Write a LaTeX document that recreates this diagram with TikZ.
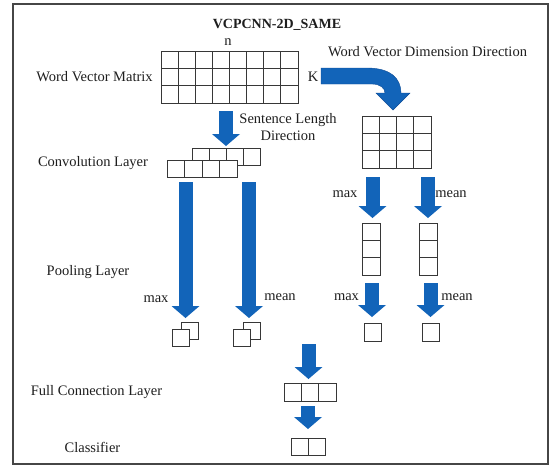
\documentclass[tikz,border=0pt]{standalone}
\usepackage{fontspec}
\setmainfont{Liberation Serif}
\usetikzlibrary{matrix,arrows.meta}
\definecolor{ablue}{RGB}{18,100,185}
\definecolor{aedge}{RGB}{12,75,150}
\definecolor{cellc}{RGB}{55,55,55}
\definecolor{txt}{RGB}{30,30,30}
\definecolor{framec}{RGB}{70,70,70}
\tikzset{
  gridm/.style={matrix of nodes, nodes in empty cells, column sep=-0.8pt, row sep=-0.8pt,
    inner sep=0pt, outer sep=0pt,
    nodes={draw=cellc, line width=0.8pt, fill=white, inner sep=0pt, outer sep=0pt}},
  cellbox/.style={draw=cellc, line width=0.8pt, fill=white, inner sep=0pt, outer sep=0pt,
    minimum width=17pt, minimum height=17pt},
  lbl/.style={text=txt, font=\fontsize{14.5}{17}\selectfont, inner sep=0pt},
  barrow/.style={draw=ablue, line width=14pt,
    -{Triangle[width=28pt,length=12pt,line width=0pt,fill=ablue]}},
  frame/.style={draw=framec, line width=1.2pt}
}
\begin{document}
\begin{tikzpicture}[x=1pt,y=-1pt]
\useasboundingbox (0,0) rectangle (550,466);
\draw[frame] (13,4) rectangle (548,464);

% title and labels
\node[lbl, font=\fontsize{14}{17}\selectfont\bfseries] (title) at (277,25) {VCPCNN-2D\_SAME};
\node[lbl] (n) at (228,42) {n};
\node[lbl] (wvmlbl) at (94.5,77) {Word Vector Matrix};
\node[lbl] (k) at (313,77) {K};
\node[lbl] (wvdd) at (427.5,52) {Word Vector Dimension Direction};
\node[lbl, align=center] (sld) at (288,127.5) {Sentence Length\\Direction};
\node[lbl] (convlbl) at (93,163) {Convolution Layer};
\node[lbl] (poollbl) at (88,272) {Pooling Layer};
\node[lbl] (fclbl) at (96.5,392) {Full Connection Layer};
\node[lbl] (clslbl) at (92.5,447) {Classifier};
\node[lbl] (max1) at (156,299) {max};
\node[lbl] (mean1) at (280,297) {mean};
\node[lbl] (max2) at (345,194) {max};
\node[lbl] (mean2) at (451,194) {mean};
\node[lbl] (max3) at (346.5,297) {max};
\node[lbl] (mean3) at (457,297) {mean};

% word vector matrix 8x3
\matrix (wvm) [gridm, nodes={minimum width=17.125pt, minimum height=17.33pt}] at (229.5,77)
  { &&&&&&& \\ &&&&&&& \\ &&&&&&& \\ };
% right matrix 4x3
\matrix (rm) [gridm, nodes={minimum width=17.25pt, minimum height=17.33pt}] at (396.5,142)
  { &&& \\ &&& \\ &&& \\ };
% convolution layer rows
\matrix (convb) [gridm, nodes={minimum width=17pt, minimum height=17.5pt}] at (226,157)
  { &&& \\ };
\matrix (convf) [gridm, nodes={minimum width=17.5pt, minimum height=17.5pt}] at (202,169)
  { &&& \\ };
% column vectors
\matrix (colL) [gridm, nodes={minimum width=18pt, minimum height=17.33pt}] at (371,249)
  { \\ \\ \\ };
\matrix (colR) [gridm, nodes={minimum width=18pt, minimum height=17.33pt}] at (428,249)
  { \\ \\ \\ };
% pooled squares (left part)
\node[cellbox] (pLb) at (189.5,330.5) {};
\node[cellbox] (pLf) at (180.5,338) {};
\node[cellbox] (pRb) at (251.5,330.5) {};
\node[cellbox] (pRf) at (242,338) {};
% pooled squares (right part)
\node[cellbox, minimum height=18pt] (qL) at (372.5,332) {};
\node[cellbox, minimum height=18pt] (qR) at (430.5,332) {};
% full connection 3 cells
\matrix (fc) [gridm, nodes={minimum width=17.33pt, minimum height=18pt}] at (310,392)
  { && \\ };
% classifier 2 cells
\matrix (cls) [gridm, nodes={minimum width=17pt, minimum height=17pt}] at (308,446.5)
  { & \\ };

% arrow end points
\coordinate (a1s) at (226,111);   \coordinate (a1e) at (226,146);
\coordinate (a2s) at (185.5,182); \coordinate (a2e) at (185.5,318);
\coordinate (a3s) at (249,182);   \coordinate (a3e) at (249,318);
\coordinate (a4s) at (372.5,177); \coordinate (a4e) at (372.5,218);
\coordinate (a5s) at (428,177);   \coordinate (a5e) at (428,218);
\coordinate (a6s) at (372,283);   \coordinate (a6e) at (372,317);
\coordinate (a7s) at (430.5,283); \coordinate (a7e) at (430.5,317);
\coordinate (a8s) at (308.5,344); \coordinate (a8e) at (308.5,379);
\coordinate (a9s) at (308,406);   \coordinate (a9e) at (308,429);

\draw[barrow] (a1s) -- (a1e);
\draw[barrow] (a2s) -- (a2e);
\draw[barrow] (a3s) -- (a3e);
\draw[barrow] (a4s) -- (a4e);
\draw[barrow] (a5s) -- (a5e);
\draw[barrow] (a6s) -- (a6e);
\draw[barrow] (a7s) -- (a7e);
\draw[barrow] (a8s) -- (a8e);
\draw[barrow] (a9s) -- (a9e);

% curved arrow from K to right matrix
\fill[ablue, draw=aedge, line width=0.4pt]
  (321,68) -- (367,68) .. controls (390,68) and (401,78) .. (401,93)
  -- (410,93) -- (393,110) -- (376,93) -- (385,93)
  .. controls (385,88) and (380,84) .. (372,84) -- (321,84) -- cycle;
\end{tikzpicture}
\end{document}
